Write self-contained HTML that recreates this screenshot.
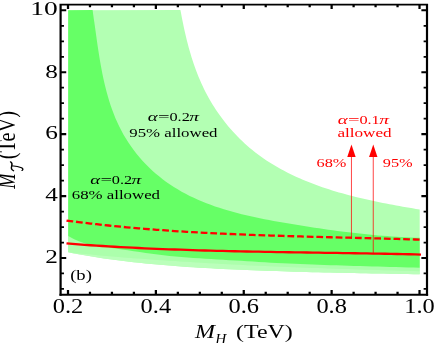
<!DOCTYPE html>
<html><head><meta charset="utf-8"><title>plot</title>
<style>
html,body{margin:0;padding:0;background:#fff;}
body{width:436px;height:343px;overflow:hidden;font-family:"Liberation Serif",serif;}
svg{display:block;will-change:transform;opacity:0.999;}
text{font-family:"Liberation Serif",serif;}
</style></head><body>
<svg width="436" height="343" viewBox="0 0 348.80 343" preserveAspectRatio="none">
<rect x="0" y="0" width="348.80" height="343" fill="#fff"/>
<path d="M54.56,10.30 L144.32,10.00 L144.81,12.98 L145.32,16.43 L145.86,19.88 L146.41,23.33 L146.98,26.76 L147.57,30.19 L148.19,33.61 L148.83,37.01 L149.50,40.41 L150.19,43.79 L150.90,47.16 L151.65,50.51 L152.43,53.85 L153.24,57.17 L154.08,60.47 L154.95,63.75 L155.86,67.01 L156.80,70.25 L157.79,73.47 L158.81,76.66 L159.87,79.83 L160.97,82.98 L162.11,86.10 L163.29,89.19 L164.52,92.25 L165.80,95.28 L167.12,98.28 L168.49,101.26 L169.90,104.19 L171.35,107.10 L172.85,109.97 L174.39,112.80 L175.97,115.60 L177.59,118.36 L179.25,121.08 L180.96,123.76 L182.70,126.40 L184.48,128.99 L186.30,131.55 L188.16,134.06 L190.05,136.52 L191.98,138.94 L193.95,141.31 L195.95,143.63 L197.99,145.91 L200.06,148.13 L202.16,150.30 L204.30,152.42 L206.47,154.49 L208.67,156.51 L210.90,158.47 L213.16,160.38 L215.45,162.24 L217.77,164.05 L220.11,165.82 L222.48,167.54 L224.88,169.21 L227.30,170.84 L229.74,172.42 L232.20,173.95 L234.68,175.45 L237.19,176.90 L239.71,178.32 L242.25,179.69 L244.81,181.02 L247.39,182.32 L249.98,183.57 L252.58,184.80 L255.20,185.98 L257.83,187.13 L260.47,188.25 L263.12,189.33 L265.79,190.39 L268.46,191.41 L271.13,192.40 L273.82,193.36 L276.51,194.29 L279.21,195.20 L281.91,196.08 L284.61,196.93 L287.32,197.76 L290.02,198.56 L292.73,199.35 L295.44,200.10 L298.14,200.84 L300.84,201.56 L303.54,202.26 L306.24,202.94 L308.93,203.60 L311.61,204.25 L314.28,204.87 L316.95,205.49 L319.61,206.09 L322.25,206.67 L324.89,207.25 L327.51,207.81 L330.12,208.36 L332.72,208.91 L335.76,209.50 L335.76,274.26 L330.99,274.15 L326.23,274.04 L321.46,273.93 L316.70,273.83 L311.93,273.72 L307.16,273.61 L302.40,273.50 L297.63,273.39 L292.87,273.28 L288.10,273.17 L283.33,273.05 L278.57,272.93 L273.80,272.81 L269.03,272.68 L264.27,272.55 L259.50,272.41 L254.74,272.27 L249.97,272.13 L245.20,271.97 L240.44,271.82 L235.67,271.65 L230.91,271.48 L226.14,271.29 L221.37,271.10 L216.61,270.91 L211.84,270.70 L207.08,270.48 L202.31,270.25 L197.54,270.02 L192.78,269.77 L188.01,269.51 L183.24,269.23 L178.48,268.95 L173.71,268.65 L168.95,268.34 L164.18,268.01 L159.41,267.66 L154.65,267.29 L149.88,266.90 L145.12,266.49 L140.35,266.05 L135.58,265.59 L130.82,265.10 L126.05,264.58 L121.29,264.03 L116.52,263.45 L111.75,262.84 L106.99,262.19 L102.22,261.51 L97.45,260.79 L92.69,260.03 L87.92,259.23 L83.16,258.38 L78.39,257.50 L73.62,256.57 L68.86,255.59 L64.09,254.57 L59.33,253.49 L54.56,252.37Z" fill="#b3ffb3"/>
<path d="M54.56,252.35 L59.33,252.94 L64.09,253.51 L68.86,254.07 L73.62,254.62 L78.39,255.16 L83.16,255.68 L87.92,256.20 L92.69,256.70 L97.45,257.19 L102.22,257.67 L106.99,258.13 L111.75,258.59 L116.52,259.04 L121.29,259.47 L126.05,259.89 L130.82,260.31 L135.58,260.71 L140.35,261.11 L145.12,261.49 L149.88,261.87 L154.65,262.23 L159.41,262.59 L164.18,262.94 L168.95,263.28 L173.71,263.61 L178.48,263.93 L183.24,264.25 L188.01,264.55 L192.78,264.85 L197.54,265.14 L202.31,265.43 L207.08,265.70 L211.84,265.97 L216.61,266.24 L221.37,266.49 L226.14,266.74 L230.91,266.99 L235.67,267.22 L240.44,267.46 L245.20,267.68 L249.97,267.90 L254.74,268.12 L259.50,268.33 L264.27,268.54 L269.03,268.74 L273.80,268.93 L278.57,269.12 L283.33,269.31 L288.10,269.50 L292.87,269.68 L297.63,269.85 L302.40,270.03 L307.16,270.20 L311.93,270.36 L316.70,270.53 L321.46,270.69 L326.23,270.85 L330.99,271.01 L335.76,271.16 L335.76,274.26 L330.99,274.15 L326.23,274.04 L321.46,273.93 L316.70,273.83 L311.93,273.72 L307.16,273.61 L302.40,273.50 L297.63,273.39 L292.87,273.28 L288.10,273.17 L283.33,273.05 L278.57,272.93 L273.80,272.81 L269.03,272.68 L264.27,272.55 L259.50,272.41 L254.74,272.27 L249.97,272.13 L245.20,271.97 L240.44,271.82 L235.67,271.65 L230.91,271.48 L226.14,271.29 L221.37,271.10 L216.61,270.91 L211.84,270.70 L207.08,270.48 L202.31,270.25 L197.54,270.02 L192.78,269.77 L188.01,269.51 L183.24,269.23 L178.48,268.95 L173.71,268.65 L168.95,268.34 L164.18,268.01 L159.41,267.66 L154.65,267.29 L149.88,266.90 L145.12,266.49 L140.35,266.05 L135.58,265.59 L130.82,265.10 L126.05,264.58 L121.29,264.03 L116.52,263.45 L111.75,262.84 L106.99,262.19 L102.22,261.51 L97.45,260.79 L92.69,260.03 L87.92,259.23 L83.16,258.38 L78.39,257.50 L73.62,256.57 L68.86,255.59 L64.09,254.57 L59.33,253.49 L54.56,252.37Z" fill="#bbffbb"/>
<path d="M54.56,235.91 L59.33,239.28 L64.09,241.85 L68.86,243.77 L73.62,245.18 L78.39,246.23 L83.16,247.05 L87.92,247.79 L92.69,248.58 L97.45,249.41 L102.22,250.28 L106.99,251.17 L111.75,252.06 L116.52,252.93 L121.29,253.76 L126.05,254.55 L130.82,255.27 L135.58,255.92 L140.35,256.50 L145.12,257.04 L149.88,257.52 L154.65,257.96 L159.41,258.37 L164.18,258.75 L168.95,259.11 L173.71,259.46 L178.48,259.81 L183.24,260.16 L188.01,260.51 L192.78,260.87 L197.54,261.24 L202.31,261.61 L207.08,261.96 L211.84,262.31 L216.61,262.65 L221.37,262.97 L226.14,263.27 L230.91,263.55 L235.67,263.82 L240.44,264.07 L245.20,264.31 L249.97,264.54 L254.74,264.76 L259.50,264.97 L264.27,265.17 L269.03,265.36 L273.80,265.55 L278.57,265.72 L283.33,265.90 L288.10,266.07 L292.87,266.23 L297.63,266.40 L302.40,266.56 L307.16,266.72 L311.93,266.89 L316.70,267.05 L321.46,267.22 L326.23,267.39 L330.99,267.57 L335.76,267.75 L335.76,271.16 L330.99,271.01 L326.23,270.85 L321.46,270.69 L316.70,270.53 L311.93,270.36 L307.16,270.20 L302.40,270.03 L297.63,269.85 L292.87,269.68 L288.10,269.50 L283.33,269.31 L278.57,269.12 L273.80,268.93 L269.03,268.74 L264.27,268.54 L259.50,268.33 L254.74,268.12 L249.97,267.90 L245.20,267.68 L240.44,267.46 L235.67,267.22 L230.91,266.99 L226.14,266.74 L221.37,266.49 L216.61,266.24 L211.84,265.97 L207.08,265.70 L202.31,265.43 L197.54,265.14 L192.78,264.85 L188.01,264.55 L183.24,264.25 L178.48,263.93 L173.71,263.61 L168.95,263.28 L164.18,262.94 L159.41,262.59 L154.65,262.23 L149.88,261.87 L145.12,261.49 L140.35,261.11 L135.58,260.71 L130.82,260.31 L126.05,259.89 L121.29,259.47 L116.52,259.04 L111.75,258.59 L106.99,258.13 L102.22,257.67 L97.45,257.19 L92.69,256.70 L87.92,256.20 L83.16,255.68 L78.39,255.16 L73.62,254.62 L68.86,254.07 L64.09,253.51 L59.33,252.94 L54.56,252.35Z" fill="#acffac"/>
<path d="M54.56,10.30 L74.08,10.00 L74.58,14.75 L75.09,19.15 L75.60,23.58 L76.10,28.06 L76.60,32.56 L77.11,37.08 L77.63,41.63 L78.16,46.19 L78.71,50.77 L79.28,55.35 L79.88,59.94 L80.52,64.53 L81.19,69.12 L81.90,73.70 L82.66,78.26 L83.47,82.81 L84.34,87.34 L85.26,91.85 L86.26,96.32 L87.32,100.77 L88.45,105.17 L89.67,109.54 L90.96,113.86 L92.35,118.13 L93.82,122.35 L95.40,126.50 L97.07,130.60 L98.85,134.63 L100.73,138.59 L102.71,142.48 L104.78,146.29 L106.95,150.01 L109.20,153.65 L111.54,157.20 L113.97,160.65 L116.47,164.01 L119.06,167.26 L121.71,170.40 L124.44,173.44 L127.24,176.36 L130.10,179.17 L133.03,181.88 L136.02,184.48 L139.06,186.97 L142.16,189.36 L145.31,191.64 L148.51,193.82 L151.75,195.90 L155.04,197.87 L158.37,199.76 L161.73,201.55 L165.13,203.25 L168.57,204.87 L172.03,206.41 L175.53,207.87 L179.05,209.26 L182.60,210.58 L186.17,211.84 L189.75,213.03 L193.36,214.17 L196.98,215.26 L200.62,216.29 L204.26,217.29 L207.91,218.24 L211.57,219.15 L215.24,220.03 L218.90,220.88 L222.56,221.70 L226.22,222.51 L229.88,223.29 L233.52,224.06 L237.16,224.82 L240.80,225.56 L244.42,226.28 L248.05,226.99 L251.67,227.69 L255.28,228.36 L258.90,229.02 L262.51,229.67 L266.12,230.29 L269.74,230.89 L273.35,231.48 L276.97,232.04 L280.59,232.58 L284.21,233.11 L287.84,233.61 L291.48,234.09 L295.12,234.54 L298.77,234.97 L302.43,235.38 L306.10,235.76 L309.78,236.12 L313.48,236.45 L317.18,236.76 L320.90,237.04 L324.63,237.29 L328.37,237.51 L332.13,237.71 L335.76,237.70 L335.76,267.75 L330.99,267.57 L326.23,267.39 L321.46,267.22 L316.70,267.05 L311.93,266.89 L307.16,266.72 L302.40,266.56 L297.63,266.40 L292.87,266.23 L288.10,266.07 L283.33,265.90 L278.57,265.72 L273.80,265.55 L269.03,265.36 L264.27,265.17 L259.50,264.97 L254.74,264.76 L249.97,264.54 L245.20,264.31 L240.44,264.07 L235.67,263.82 L230.91,263.55 L226.14,263.27 L221.37,262.97 L216.61,262.65 L211.84,262.31 L207.08,261.96 L202.31,261.61 L197.54,261.24 L192.78,260.87 L188.01,260.51 L183.24,260.16 L178.48,259.81 L173.71,259.46 L168.95,259.11 L164.18,258.75 L159.41,258.37 L154.65,257.96 L149.88,257.52 L145.12,257.04 L140.35,256.50 L135.58,255.92 L130.82,255.27 L126.05,254.55 L121.29,253.76 L116.52,252.93 L111.75,252.06 L106.99,251.17 L102.22,250.28 L97.45,249.41 L92.69,248.58 L87.92,247.79 L83.16,247.05 L78.39,246.23 L73.62,245.18 L68.86,243.77 L64.09,241.85 L59.33,239.28 L54.56,235.91Z" fill="#66ff66"/>
<path d="M53.20,220.51 L58.01,221.31 L62.81,222.07 L67.62,222.81 L72.43,223.52 L77.23,224.21 L82.04,224.87 L86.85,225.50 L91.65,226.11 L96.46,226.70 L101.27,227.27 L106.07,227.81 L110.88,228.33 L115.69,228.83 L120.49,229.31 L125.30,229.77 L130.11,230.21 L134.92,230.63 L139.72,231.04 L144.53,231.42 L149.34,231.79 L154.14,232.15 L158.95,232.48 L163.76,232.81 L168.56,233.12 L173.37,233.41 L178.18,233.69 L182.98,233.96 L187.79,234.22 L192.60,234.47 L197.40,234.70 L202.21,234.93 L207.02,235.15 L211.82,235.35 L216.63,235.55 L221.44,235.74 L226.24,235.93 L231.05,236.11 L235.86,236.28 L240.66,236.45 L245.47,236.62 L250.28,236.78 L255.08,236.93 L259.89,237.09 L264.70,237.24 L269.51,237.39 L274.31,237.54 L279.12,237.69 L283.93,237.84 L288.73,237.99 L293.54,238.15 L298.35,238.30 L303.15,238.46 L307.96,238.62 L312.77,238.79 L317.57,238.96 L322.38,239.14 L327.19,239.32 L331.99,239.51 L336.80,239.71" fill="none" stroke="#f00" stroke-width="2.3" stroke-dasharray="5.4 2.32"/>
<path d="M53.20,243.47 L58.01,243.94 L62.81,244.39 L67.62,244.82 L72.43,245.24 L77.23,245.64 L82.04,246.02 L86.85,246.39 L91.65,246.74 L96.46,247.08 L101.27,247.40 L106.07,247.71 L110.88,248.00 L115.69,248.28 L120.49,248.55 L125.30,248.81 L130.11,249.06 L134.92,249.29 L139.72,249.51 L144.53,249.72 L149.34,249.93 L154.14,250.12 L158.95,250.30 L163.76,250.48 L168.56,250.64 L173.37,250.80 L178.18,250.95 L182.98,251.09 L187.79,251.23 L192.60,251.36 L197.40,251.49 L202.21,251.61 L207.02,251.72 L211.82,251.83 L216.63,251.94 L221.44,252.04 L226.24,252.14 L231.05,252.24 L235.86,252.33 L240.66,252.42 L245.47,252.51 L250.28,252.60 L255.08,252.69 L259.89,252.78 L264.70,252.87 L269.51,252.96 L274.31,253.05 L279.12,253.15 L283.93,253.24 L288.73,253.34 L293.54,253.44 L298.35,253.54 L303.15,253.65 L307.96,253.76 L312.77,253.88 L317.57,254.00 L322.38,254.13 L327.19,254.26 L331.99,254.40 L336.80,254.54" fill="none" stroke="#f00" stroke-width="2.3"/>
<path d="M281.16,237.6V156" stroke="#f00" stroke-width="0.65" fill="none"/><path d="M281.16,144.4l3.35,12.5h-6.7z" fill="#f00"/>
<path d="M298.60,253.3V156" stroke="#f00" stroke-width="0.65" fill="none"/><path d="M298.60,144.4l3.35,12.5h-6.7z" fill="#f00"/>
<g fill="#000">
<text x="122.20" y="121.5" font-size="13.4" text-anchor="middle" textLength="8.00" lengthAdjust="spacingAndGlyphs" font-style="italic">α</text><text x="131.08" y="121.5" font-size="13.4" text-anchor="middle" textLength="9.30" lengthAdjust="spacingAndGlyphs">=</text><text x="143.68" y="121.5" font-size="13.4" text-anchor="middle" textLength="16.25" lengthAdjust="spacingAndGlyphs">0.2</text><text x="155.24" y="121.5" font-size="13.4" text-anchor="middle" textLength="7.80" lengthAdjust="spacingAndGlyphs" font-style="italic">π</text>
<text x="138.72" y="137.1" font-size="13.4" text-anchor="middle" textLength="70.60" lengthAdjust="spacingAndGlyphs">95% allowed</text>
<text x="76.12" y="183.9" font-size="13.4" text-anchor="middle" textLength="8.00" lengthAdjust="spacingAndGlyphs" font-style="italic">α</text><text x="85.00" y="183.9" font-size="13.4" text-anchor="middle" textLength="9.30" lengthAdjust="spacingAndGlyphs">=</text><text x="97.60" y="183.9" font-size="13.4" text-anchor="middle" textLength="16.25" lengthAdjust="spacingAndGlyphs">0.2</text><text x="109.16" y="183.9" font-size="13.4" text-anchor="middle" textLength="7.80" lengthAdjust="spacingAndGlyphs" font-style="italic">π</text>
<text x="92.72" y="199.1" font-size="13.4" text-anchor="middle" textLength="70.60" lengthAdjust="spacingAndGlyphs">68% allowed</text>
<text x="64.84" y="280.0" font-size="14.5" text-anchor="middle" textLength="17.40" lengthAdjust="spacingAndGlyphs">(b)</text>
</g>
<g fill="#f00">
<text x="274.20" y="124.4" font-size="13.4" text-anchor="middle" textLength="8.00" lengthAdjust="spacingAndGlyphs" font-style="italic">α</text><text x="283.08" y="124.4" font-size="13.4" text-anchor="middle" textLength="9.30" lengthAdjust="spacingAndGlyphs">=</text><text x="295.68" y="124.4" font-size="13.4" text-anchor="middle" textLength="16.25" lengthAdjust="spacingAndGlyphs">0.1</text><text x="307.24" y="124.4" font-size="13.4" text-anchor="middle" textLength="7.80" lengthAdjust="spacingAndGlyphs" font-style="italic">π</text>
<text x="291.64" y="137.1" font-size="13.4" text-anchor="middle" textLength="43.40" lengthAdjust="spacingAndGlyphs">allowed</text>
<text x="265.16" y="167.5" font-size="13.4" text-anchor="middle" textLength="23.90" lengthAdjust="spacingAndGlyphs">68%</text>
<text x="318.20" y="167.5" font-size="13.4" text-anchor="middle" textLength="23.90" lengthAdjust="spacingAndGlyphs">95%</text>
</g>
<path d="M48.48,295.85V4.5H341.60V295.85" fill="none" stroke="#000" stroke-width="1.75" stroke-linejoin="miter"/>
<path d="M47.60,294.75H342.48" fill="none" stroke="#000" stroke-width="2.2"/>
<path d="M54.40,294.75V289.90M54.40,4.5v4.5M71.98,294.75V291.70M71.98,4.5v2.7M89.55,294.75V291.70M89.55,4.5v2.7M107.13,294.75V291.70M107.13,4.5v2.7M124.70,294.75V289.90M124.70,4.5v4.5M142.28,294.75V291.70M142.28,4.5v2.7M159.86,294.75V291.70M159.86,4.5v2.7M177.43,294.75V291.70M177.43,4.5v2.7M195.01,294.75V289.90M195.01,4.5v4.5M212.58,294.75V291.70M212.58,4.5v2.7M230.16,294.75V291.70M230.16,4.5v2.7M247.74,294.75V291.70M247.74,4.5v2.7M265.31,294.75V289.90M265.31,4.5v4.5M282.89,294.75V291.70M282.89,4.5v2.7M300.46,294.75V291.70M300.46,4.5v2.7M318.04,294.75V291.70M318.04,4.5v2.7M335.62,294.75V289.90M335.62,4.5v4.5" stroke="#000" stroke-width="1.8" fill="none"/>
<path d="M48.48,288.96h2.7M341.60,288.96h-2.7M48.48,273.48h2.7M341.60,273.48h-2.7M48.48,242.52h2.7M341.60,242.52h-2.7M48.48,227.04h2.7M341.60,227.04h-2.7M48.48,211.56h2.7M341.60,211.56h-2.7M48.48,180.60h2.7M341.60,180.60h-2.7M48.48,165.12h2.7M341.60,165.12h-2.7M48.48,149.64h2.7M341.60,149.64h-2.7M48.48,118.68h2.7M341.60,118.68h-2.7M48.48,103.20h2.7M341.60,103.20h-2.7M48.48,87.72h2.7M341.60,87.72h-2.7M48.48,56.76h2.7M341.60,56.76h-2.7M48.48,41.28h2.7M341.60,41.28h-2.7M48.48,25.80h2.7M341.60,25.80h-2.7" stroke="#000" stroke-width="1.75" fill="none"/>
<path d="M48.48,258.00h4.5M341.60,258.00h-4.5M48.48,196.08h4.5M341.60,196.08h-4.5M48.48,134.16h4.5M341.60,134.16h-4.5M48.48,72.24h4.5M341.60,72.24h-4.5M48.48,10.32h4.5M341.60,10.32h-4.5" stroke="#000" stroke-width="2.1" fill="none"/>
<g fill="#000"><text x="54.40" y="313.2" font-size="20" text-anchor="middle" textLength="24.40" lengthAdjust="spacingAndGlyphs">0.2</text><text x="124.70" y="313.2" font-size="20" text-anchor="middle" textLength="24.40" lengthAdjust="spacingAndGlyphs">0.4</text><text x="195.01" y="313.2" font-size="20" text-anchor="middle" textLength="24.40" lengthAdjust="spacingAndGlyphs">0.6</text><text x="265.31" y="313.2" font-size="20" text-anchor="middle" textLength="24.40" lengthAdjust="spacingAndGlyphs">0.8</text><text x="335.62" y="313.2" font-size="20" text-anchor="middle" textLength="24.40" lengthAdjust="spacingAndGlyphs">1.0</text><text x="41.20" y="263.3" font-size="19" text-anchor="middle" textLength="10.10" lengthAdjust="spacingAndGlyphs">2</text><text x="41.20" y="201.38000000000002" font-size="19" text-anchor="middle" textLength="10.10" lengthAdjust="spacingAndGlyphs">4</text><text x="41.20" y="139.46000000000004" font-size="19" text-anchor="middle" textLength="10.10" lengthAdjust="spacingAndGlyphs">6</text><text x="41.20" y="77.54" font-size="19" text-anchor="middle" textLength="10.10" lengthAdjust="spacingAndGlyphs">8</text><text x="35.28" y="15.119999999999994" font-size="19.5" text-anchor="middle" textLength="22.00" lengthAdjust="spacingAndGlyphs">10</text></g>
<g font-size="19.5" fill="#000">
<text x="164.00" y="338" font-size="19.5" text-anchor="middle" textLength="16.00" lengthAdjust="spacingAndGlyphs" font-style="italic">M</text>
<text x="176.56" y="343.6" font-size="14" text-anchor="middle" textLength="8.80" lengthAdjust="spacingAndGlyphs" font-style="italic">H</text>
<text x="211.52" y="338" font-size="19.5" text-anchor="middle" textLength="45.40" lengthAdjust="spacingAndGlyphs">(TeV)</text>
<g transform="translate(12.24,0) rotate(-90)">
<text x="-188.8" y="0" font-style="italic" textLength="15.4" lengthAdjust="spacingAndGlyphs">M</text>
<path transform="translate(-171.4,6.2) scale(1.0)" d="M0.6,-7.6C1.6,-9.4 3.4,-9.6 5.2,-9.1C7.0,-8.6 8.6,-8.7 9.6,-10.0 M5.6,-9.0C5.2,-6.2 4.6,-3.4 3.6,-1.2C3.0,0.0 1.6,0.2 0.9,-0.8" fill="none" stroke="#000" stroke-width="1.15" stroke-linecap="round"/>
<text x="-159.3" y="0" textLength="48.3" lengthAdjust="spacingAndGlyphs">(TeV)</text>
</g>
</g>
</svg>
</body></html>
